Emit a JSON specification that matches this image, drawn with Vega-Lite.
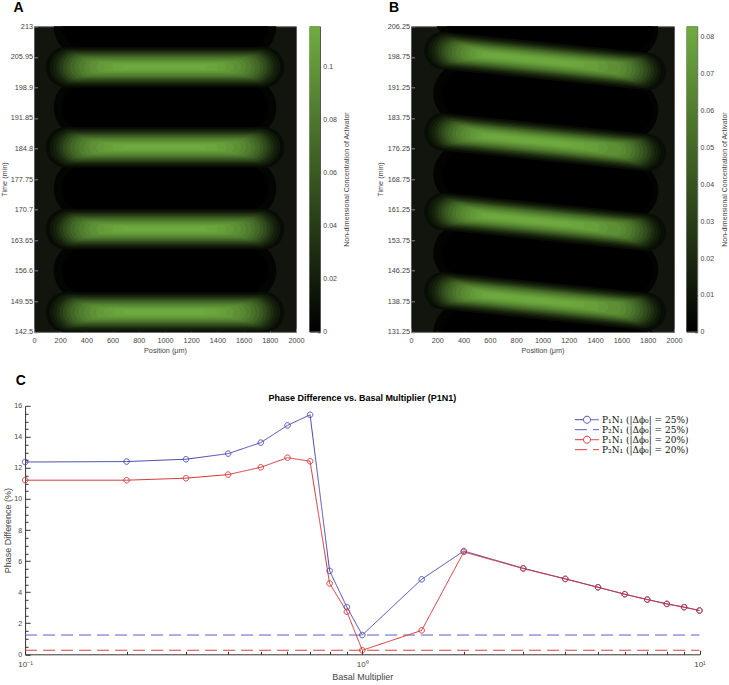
{
  "$schema": "https://vega.github.io/schema/vega-lite/v6.json",
  "autosize": {"type": "pad"},
  "padding": {"left": 0, "top": 0.3, "right": 0, "bottom": 0},
  "background": "white",
  "config": {
    "font": "Liberation Sans",
    "axis": {"labelFlush": false, "labelOverlap": false, "grid": false, "domainColor": "#333", "tickColor": "#333", "labelColor": "#444", "titleColor": "#444", "titleFontWeight": "normal", "labelFont": "Liberation Sans", "titleFont": "Liberation Sans"},
    "view": {"stroke": null}
  },
  "datasets": {
    "heatA": [
      {"x":382,"x2":1618,"t":212.9,"t2":212.9,"v":0.003,"w":14},
      {"x":382,"x2":1618,"t":194.3,"t2":194.3,"v":0.003,"w":14},
      {"x":382,"x2":1618,"t":175.6,"t2":175.6,"v":0.003,"w":14},
      {"x":382,"x2":1618,"t":156.6,"t2":156.6,"v":0.003,"w":14},
      {"x":397,"x2":1603,"t":212.9,"t2":212.9,"v":0,"w":11},
      {"x":397,"x2":1603,"t":194.3,"t2":194.3,"v":0,"w":11},
      {"x":397,"x2":1603,"t":175.6,"t2":175.6,"v":0,"w":11},
      {"x":397,"x2":1603,"t":156.6,"t2":156.6,"v":0,"w":11},
      {"x":245,"x2":1755,"t":203.6,"t2":203.6,"v":0.008,"w":9.4},
      {"x":262,"x2":1738,"t":203.6,"t2":203.6,"v":0.015,"w":8.6},
      {"x":277,"x2":1723,"t":203.6,"t2":203.6,"v":0.022,"w":8.0},
      {"x":293,"x2":1707,"t":203.6,"t2":203.6,"v":0.03,"w":7.4},
      {"x":307,"x2":1693,"t":203.6,"t2":203.6,"v":0.04,"w":6.8},
      {"x":323,"x2":1677,"t":203.6,"t2":203.6,"v":0.05,"w":6.2},
      {"x":341,"x2":1659,"t":203.6,"t2":203.6,"v":0.059,"w":5.65},
      {"x":359,"x2":1641,"t":203.6,"t2":203.6,"v":0.068,"w":5.1},
      {"x":384,"x2":1616,"t":203.6,"t2":203.6,"v":0.076,"w":4.6},
      {"x":408,"x2":1592,"t":203.6,"t2":203.6,"v":0.083,"w":4.1},
      {"x":439,"x2":1561,"t":203.6,"t2":203.6,"v":0.09,"w":3.55},
      {"x":470,"x2":1530,"t":203.6,"t2":203.6,"v":0.096,"w":3.0},
      {"x":516,"x2":1484,"t":203.6,"t2":203.6,"v":0.102,"w":2.5},
      {"x":563,"x2":1437,"t":203.6,"t2":203.6,"v":0.106,"w":2.0},
      {"x":625,"x2":1375,"t":203.6,"t2":203.6,"v":0.11,"w":1.5},
      {"x":697,"x2":1303,"t":203.6,"t2":203.6,"v":0.113,"w":1.0},
      {"x":245,"x2":1755,"t":185.1,"t2":185.1,"v":0.008,"w":9.4},
      {"x":262,"x2":1738,"t":185.1,"t2":185.1,"v":0.015,"w":8.6},
      {"x":277,"x2":1723,"t":185.1,"t2":185.1,"v":0.022,"w":8.0},
      {"x":293,"x2":1707,"t":185.1,"t2":185.1,"v":0.03,"w":7.4},
      {"x":307,"x2":1693,"t":185.1,"t2":185.1,"v":0.04,"w":6.8},
      {"x":323,"x2":1677,"t":185.1,"t2":185.1,"v":0.05,"w":6.2},
      {"x":341,"x2":1659,"t":185.1,"t2":185.1,"v":0.059,"w":5.65},
      {"x":359,"x2":1641,"t":185.1,"t2":185.1,"v":0.068,"w":5.1},
      {"x":384,"x2":1616,"t":185.1,"t2":185.1,"v":0.076,"w":4.6},
      {"x":408,"x2":1592,"t":185.1,"t2":185.1,"v":0.083,"w":4.1},
      {"x":439,"x2":1561,"t":185.1,"t2":185.1,"v":0.09,"w":3.55},
      {"x":470,"x2":1530,"t":185.1,"t2":185.1,"v":0.096,"w":3.0},
      {"x":516,"x2":1484,"t":185.1,"t2":185.1,"v":0.102,"w":2.5},
      {"x":563,"x2":1437,"t":185.1,"t2":185.1,"v":0.106,"w":2.0},
      {"x":625,"x2":1375,"t":185.1,"t2":185.1,"v":0.11,"w":1.5},
      {"x":697,"x2":1303,"t":185.1,"t2":185.1,"v":0.113,"w":1.0},
      {"x":245,"x2":1755,"t":166.2,"t2":166.2,"v":0.008,"w":9.4},
      {"x":262,"x2":1738,"t":166.2,"t2":166.2,"v":0.015,"w":8.6},
      {"x":277,"x2":1723,"t":166.2,"t2":166.2,"v":0.022,"w":8.0},
      {"x":293,"x2":1707,"t":166.2,"t2":166.2,"v":0.03,"w":7.4},
      {"x":307,"x2":1693,"t":166.2,"t2":166.2,"v":0.04,"w":6.8},
      {"x":323,"x2":1677,"t":166.2,"t2":166.2,"v":0.05,"w":6.2},
      {"x":341,"x2":1659,"t":166.2,"t2":166.2,"v":0.059,"w":5.65},
      {"x":359,"x2":1641,"t":166.2,"t2":166.2,"v":0.068,"w":5.1},
      {"x":384,"x2":1616,"t":166.2,"t2":166.2,"v":0.076,"w":4.6},
      {"x":408,"x2":1592,"t":166.2,"t2":166.2,"v":0.083,"w":4.1},
      {"x":439,"x2":1561,"t":166.2,"t2":166.2,"v":0.09,"w":3.55},
      {"x":470,"x2":1530,"t":166.2,"t2":166.2,"v":0.096,"w":3.0},
      {"x":516,"x2":1484,"t":166.2,"t2":166.2,"v":0.102,"w":2.5},
      {"x":563,"x2":1437,"t":166.2,"t2":166.2,"v":0.106,"w":2.0},
      {"x":625,"x2":1375,"t":166.2,"t2":166.2,"v":0.11,"w":1.5},
      {"x":697,"x2":1303,"t":166.2,"t2":166.2,"v":0.113,"w":1.0},
      {"x":245,"x2":1755,"t":147.0,"t2":147.0,"v":0.008,"w":9.4},
      {"x":262,"x2":1738,"t":147.0,"t2":147.0,"v":0.015,"w":8.6},
      {"x":277,"x2":1723,"t":147.0,"t2":147.0,"v":0.022,"w":8.0},
      {"x":293,"x2":1707,"t":147.0,"t2":147.0,"v":0.03,"w":7.4},
      {"x":307,"x2":1693,"t":147.0,"t2":147.0,"v":0.04,"w":6.8},
      {"x":323,"x2":1677,"t":147.0,"t2":147.0,"v":0.05,"w":6.2},
      {"x":341,"x2":1659,"t":147.0,"t2":147.0,"v":0.059,"w":5.65},
      {"x":359,"x2":1641,"t":147.0,"t2":147.0,"v":0.068,"w":5.1},
      {"x":384,"x2":1616,"t":147.0,"t2":147.0,"v":0.076,"w":4.6},
      {"x":408,"x2":1592,"t":147.0,"t2":147.0,"v":0.083,"w":4.1},
      {"x":439,"x2":1561,"t":147.0,"t2":147.0,"v":0.09,"w":3.55},
      {"x":470,"x2":1530,"t":147.0,"t2":147.0,"v":0.096,"w":3.0},
      {"x":516,"x2":1484,"t":147.0,"t2":147.0,"v":0.102,"w":2.5},
      {"x":563,"x2":1437,"t":147.0,"t2":147.0,"v":0.106,"w":2.0},
      {"x":625,"x2":1375,"t":147.0,"t2":147.0,"v":0.11,"w":1.5},
      {"x":697,"x2":1303,"t":147.0,"t2":147.0,"v":0.113,"w":1.0}
    ],
    "heatB": [
      {"x":402,"x2":1648,"t":209.67,"t2":205.56,"v":0.002,"w":15},
      {"x":402,"x2":1648,"t":189.77,"t2":185.66,"v":0.002,"w":15},
      {"x":402,"x2":1648,"t":170.02,"t2":165.91,"v":0.002,"w":15},
      {"x":402,"x2":1648,"t":150.57,"t2":146.46,"v":0.002,"w":15},
      {"x":402,"x2":1648,"t":130.97,"t2":126.86,"v":0.002,"w":15},
      {"x":426,"x2":1654,"t":209.59,"t2":205.54,"v":0,"w":12},
      {"x":426,"x2":1654,"t":189.69,"t2":185.64,"v":0,"w":12},
      {"x":426,"x2":1654,"t":169.94,"t2":165.89,"v":0,"w":12},
      {"x":426,"x2":1654,"t":150.49,"t2":146.44,"v":0,"w":12},
      {"x":426,"x2":1654,"t":130.89,"t2":126.84,"v":0,"w":12},
      {"x":243,"x2":1797,"t":200.30,"t2":195.17,"v":0.006,"w":9.2},
      {"x":260,"x2":1770,"t":200.24,"t2":195.26,"v":0.011,"w":8.4},
      {"x":276,"x2":1754,"t":200.19,"t2":195.31,"v":0.016,"w":7.8},
      {"x":292,"x2":1738,"t":200.14,"t2":195.37,"v":0.022,"w":7.2},
      {"x":307,"x2":1723,"t":200.09,"t2":195.41,"v":0.029,"w":6.6},
      {"x":323,"x2":1707,"t":200.03,"t2":195.47,"v":0.036,"w":6.0},
      {"x":340,"x2":1685,"t":199.98,"t2":195.54,"v":0.043,"w":5.5},
      {"x":358,"x2":1662,"t":199.92,"t2":195.62,"v":0.049,"w":5.0},
      {"x":380,"x2":1640,"t":199.85,"t2":195.69,"v":0.055,"w":4.5},
      {"x":402,"x2":1618,"t":199.77,"t2":195.76,"v":0.06,"w":4.0},
      {"x":429,"x2":1586,"t":199.68,"t2":195.87,"v":0.065,"w":3.5},
      {"x":457,"x2":1553,"t":199.59,"t2":195.98,"v":0.069,"w":3.0},
      {"x":484,"x2":1461,"t":199.50,"t2":196.28,"v":0.073,"w":2.5},
      {"x":520,"x2":1400,"t":199.38,"t2":196.48,"v":0.076,"w":2.0},
      {"x":558,"x2":1297,"t":199.26,"t2":196.82,"v":0.079,"w":1.5},
      {"x":600,"x2":1200,"t":199.12,"t2":197.14,"v":0.081,"w":1.0},
      {"x":243,"x2":1797,"t":180.35,"t2":175.22,"v":0.006,"w":9.2},
      {"x":260,"x2":1770,"t":180.29,"t2":175.31,"v":0.011,"w":8.4},
      {"x":276,"x2":1754,"t":180.24,"t2":175.36,"v":0.016,"w":7.8},
      {"x":292,"x2":1738,"t":180.19,"t2":175.42,"v":0.022,"w":7.2},
      {"x":307,"x2":1723,"t":180.14,"t2":175.46,"v":0.029,"w":6.6},
      {"x":323,"x2":1707,"t":180.08,"t2":175.52,"v":0.036,"w":6.0},
      {"x":340,"x2":1685,"t":180.03,"t2":175.59,"v":0.043,"w":5.5},
      {"x":358,"x2":1662,"t":179.97,"t2":175.67,"v":0.049,"w":5.0},
      {"x":380,"x2":1640,"t":179.90,"t2":175.74,"v":0.055,"w":4.5},
      {"x":402,"x2":1618,"t":179.82,"t2":175.81,"v":0.06,"w":4.0},
      {"x":429,"x2":1586,"t":179.73,"t2":175.92,"v":0.065,"w":3.5},
      {"x":457,"x2":1553,"t":179.64,"t2":176.03,"v":0.069,"w":3.0},
      {"x":484,"x2":1461,"t":179.55,"t2":176.33,"v":0.073,"w":2.5},
      {"x":520,"x2":1400,"t":179.43,"t2":176.53,"v":0.076,"w":2.0},
      {"x":558,"x2":1297,"t":179.31,"t2":176.87,"v":0.079,"w":1.5},
      {"x":600,"x2":1200,"t":179.17,"t2":177.19,"v":0.081,"w":1.0},
      {"x":243,"x2":1797,"t":160.80,"t2":155.67,"v":0.006,"w":9.2},
      {"x":260,"x2":1770,"t":160.74,"t2":155.76,"v":0.011,"w":8.4},
      {"x":276,"x2":1754,"t":160.69,"t2":155.81,"v":0.016,"w":7.8},
      {"x":292,"x2":1738,"t":160.64,"t2":155.87,"v":0.022,"w":7.2},
      {"x":307,"x2":1723,"t":160.59,"t2":155.91,"v":0.029,"w":6.6},
      {"x":323,"x2":1707,"t":160.53,"t2":155.97,"v":0.036,"w":6.0},
      {"x":340,"x2":1685,"t":160.48,"t2":156.04,"v":0.043,"w":5.5},
      {"x":358,"x2":1662,"t":160.42,"t2":156.12,"v":0.049,"w":5.0},
      {"x":380,"x2":1640,"t":160.35,"t2":156.19,"v":0.055,"w":4.5},
      {"x":402,"x2":1618,"t":160.27,"t2":156.26,"v":0.06,"w":4.0},
      {"x":429,"x2":1586,"t":160.18,"t2":156.37,"v":0.065,"w":3.5},
      {"x":457,"x2":1553,"t":160.09,"t2":156.48,"v":0.069,"w":3.0},
      {"x":484,"x2":1461,"t":160.00,"t2":156.78,"v":0.073,"w":2.5},
      {"x":520,"x2":1400,"t":159.88,"t2":156.98,"v":0.076,"w":2.0},
      {"x":558,"x2":1297,"t":159.76,"t2":157.32,"v":0.079,"w":1.5},
      {"x":600,"x2":1200,"t":159.62,"t2":157.64,"v":0.081,"w":1.0},
      {"x":243,"x2":1797,"t":141.35,"t2":136.22,"v":0.006,"w":9.2},
      {"x":260,"x2":1770,"t":141.29,"t2":136.31,"v":0.011,"w":8.4},
      {"x":276,"x2":1754,"t":141.24,"t2":136.36,"v":0.016,"w":7.8},
      {"x":292,"x2":1738,"t":141.19,"t2":136.42,"v":0.022,"w":7.2},
      {"x":307,"x2":1723,"t":141.14,"t2":136.46,"v":0.029,"w":6.6},
      {"x":323,"x2":1707,"t":141.08,"t2":136.52,"v":0.036,"w":6.0},
      {"x":340,"x2":1685,"t":141.03,"t2":136.59,"v":0.043,"w":5.5},
      {"x":358,"x2":1662,"t":140.97,"t2":136.67,"v":0.049,"w":5.0},
      {"x":380,"x2":1640,"t":140.90,"t2":136.74,"v":0.055,"w":4.5},
      {"x":402,"x2":1618,"t":140.82,"t2":136.81,"v":0.06,"w":4.0},
      {"x":429,"x2":1586,"t":140.73,"t2":136.92,"v":0.065,"w":3.5},
      {"x":457,"x2":1553,"t":140.64,"t2":137.03,"v":0.069,"w":3.0},
      {"x":484,"x2":1461,"t":140.55,"t2":137.33,"v":0.073,"w":2.5},
      {"x":520,"x2":1400,"t":140.43,"t2":137.53,"v":0.076,"w":2.0},
      {"x":558,"x2":1297,"t":140.31,"t2":137.87,"v":0.079,"w":1.5},
      {"x":600,"x2":1200,"t":140.17,"t2":138.19,"v":0.081,"w":1.0}
    ],
    "cbA": [{"lo": 0, "hi": 0.1153}],
    "cbB": [{"lo": 0, "hi": 0.0829}],
    "p2n1": [
      {"series": "P₂N₁ (|Δϕ₀| = 25%)", "x0": 0.1, "x1": 10, "val": 1.24},
      {"series": "P₂N₁ (|Δϕ₀| = 20%)", "x0": 0.1, "x1": 10, "val": 0.26}
    ],
    "phase": [
      {"series": "P₁N₁ (|Δϕ₀| = 25%)", "m": 0.1, "pd": 12.38},
      {"series": "P₁N₁ (|Δϕ₀| = 25%)", "m": 0.2, "pd": 12.41},
      {"series": "P₁N₁ (|Δϕ₀| = 25%)", "m": 0.3, "pd": 12.56},
      {"series": "P₁N₁ (|Δϕ₀| = 25%)", "m": 0.4, "pd": 12.92},
      {"series": "P₁N₁ (|Δϕ₀| = 25%)", "m": 0.5, "pd": 13.63},
      {"series": "P₁N₁ (|Δϕ₀| = 25%)", "m": 0.6, "pd": 14.74},
      {"series": "P₁N₁ (|Δϕ₀| = 25%)", "m": 0.7, "pd": 15.42},
      {"series": "P₁N₁ (|Δϕ₀| = 25%)", "m": 0.8, "pd": 5.37},
      {"series": "P₁N₁ (|Δϕ₀| = 25%)", "m": 0.9, "pd": 3.04},
      {"series": "P₁N₁ (|Δϕ₀| = 25%)", "m": 1, "pd": 1.24},
      {"series": "P₁N₁ (|Δϕ₀| = 25%)", "m": 1.5, "pd": 4.83},
      {"series": "P₁N₁ (|Δϕ₀| = 25%)", "m": 2, "pd": 6.65},
      {"series": "P₁N₁ (|Δϕ₀| = 25%)", "m": 3, "pd": 5.54},
      {"series": "P₁N₁ (|Δϕ₀| = 25%)", "m": 4, "pd": 4.86},
      {"series": "P₁N₁ (|Δϕ₀| = 25%)", "m": 5, "pd": 4.32},
      {"series": "P₁N₁ (|Δϕ₀| = 25%)", "m": 6, "pd": 3.87},
      {"series": "P₁N₁ (|Δϕ₀| = 25%)", "m": 7, "pd": 3.53},
      {"series": "P₁N₁ (|Δϕ₀| = 25%)", "m": 8, "pd": 3.25},
      {"series": "P₁N₁ (|Δϕ₀| = 25%)", "m": 9, "pd": 3.04},
      {"series": "P₁N₁ (|Δϕ₀| = 25%)", "m": 10, "pd": 2.82},
      {"series": "P₁N₁ (|Δϕ₀| = 20%)", "m": 0.1, "pd": 11.21},
      {"series": "P₁N₁ (|Δϕ₀| = 20%)", "m": 0.2, "pd": 11.21},
      {"series": "P₁N₁ (|Δϕ₀| = 20%)", "m": 0.3, "pd": 11.34},
      {"series": "P₁N₁ (|Δϕ₀| = 20%)", "m": 0.4, "pd": 11.57},
      {"series": "P₁N₁ (|Δϕ₀| = 20%)", "m": 0.5, "pd": 12.04},
      {"series": "P₁N₁ (|Δϕ₀| = 20%)", "m": 0.6, "pd": 12.66},
      {"series": "P₁N₁ (|Δϕ₀| = 20%)", "m": 0.7, "pd": 12.43},
      {"series": "P₁N₁ (|Δϕ₀| = 20%)", "m": 0.8, "pd": 4.56},
      {"series": "P₁N₁ (|Δϕ₀| = 20%)", "m": 0.9, "pd": 2.74},
      {"series": "P₁N₁ (|Δϕ₀| = 20%)", "m": 1, "pd": 0.26},
      {"series": "P₁N₁ (|Δϕ₀| = 20%)", "m": 1.5, "pd": 1.54},
      {"series": "P₁N₁ (|Δϕ₀| = 20%)", "m": 2, "pd": 6.59},
      {"series": "P₁N₁ (|Δϕ₀| = 20%)", "m": 3, "pd": 5.52},
      {"series": "P₁N₁ (|Δϕ₀| = 20%)", "m": 4, "pd": 4.85},
      {"series": "P₁N₁ (|Δϕ₀| = 20%)", "m": 5, "pd": 4.31},
      {"series": "P₁N₁ (|Δϕ₀| = 20%)", "m": 6, "pd": 3.87},
      {"series": "P₁N₁ (|Δϕ₀| = 20%)", "m": 7, "pd": 3.52},
      {"series": "P₁N₁ (|Δϕ₀| = 20%)", "m": 8, "pd": 3.24},
      {"series": "P₁N₁ (|Δϕ₀| = 20%)", "m": 9, "pd": 3.03},
      {"series": "P₁N₁ (|Δϕ₀| = 20%)", "m": 10, "pd": 2.82}
    ]
  },
  "resolve": {"scale": {"color": "independent", "strokeDash": "independent", "strokeWidth": "independent"}},
  "columns": 1,
  "spacing": 18.5,
  "concat": [
    {
      "resolve": {"scale": {"color": "independent", "strokeWidth": "independent"}},
      "hconcat": [
        {
          "hconcat": [
            {
              "width": 262, "height": 305.5,
              "title": {"text": "A", "anchor": "start", "frame": "group", "dx": -20.5, "offset": -3.7, "baseline": "alphabetic", "fontSize": 14, "fontWeight": "bold", "color": "#000"},
              "view": {"fill": "#11150e", "stroke": "#5c5c5c"},
              "data": {"name": "heatA"},
              "mark": {"type": "rule", "strokeCap": "round", "clip": true},
              "encoding": {
                "x": {"field": "x", "type": "quantitative", "scale": {"domain": [0, 2000], "nice": false, "zero": false},
                  "axis": {"values": [0,200,400,600,800,1000,1200,1400,1600,1800,2000], "format": "d", "title": "Position (μm)", "labelFontSize": 7.3, "titleFontSize": 7.3, "tickSize": -3.5, "tickColor": "#8a8a8a", "labelPadding": 8, "titlePadding": 3, "domain": false}},
                "x2": {"field": "x2"},
                "y": {"field": "t", "type": "quantitative", "scale": {"domain": [142.5, 213], "nice": false, "zero": false},
                  "axis": {"values": [142.5,149.55,156.6,163.65,170.7,177.75,184.8,191.85,198.9,205.95,213], "format": ".2~f", "title": "Time (min)", "labelFontSize": 7.3, "titleFontSize": 7.3, "tickSize": -3.5, "tickColor": "#8a8a8a", "labelPadding": 5, "titlePadding": 1.5, "domain": false}},
                "y2": {"field": "t2"},
                "color": {"field": "v", "type": "quantitative", "scale": {"domain": [0, 0.1153], "range": ["#000000", "#70ad40"], "interpolate": "rgb"}, "legend": null},
                "strokeWidth": {"field": "w", "type": "quantitative", "scale": {"domain": [0, 10], "range": [0, 43.33]}, "legend": null}
              }
            },
            {
              "width": 10.5, "height": 305.5,
              "view": {"stroke": "#555"},
              "data": {"name": "cbA"},
              "mark": {"type": "rect", "color": {"gradient": "linear", "x1": 0, "y1": 1, "x2": 0, "y2": 0, "stops": [{"offset": 0, "color": "#000000"}, {"offset": 1, "color": "#70ad40"}]}},
              "encoding": {
                "y": {"field": "lo", "type": "quantitative", "scale": {"domain": [0, 0.1153], "nice": false},
                  "axis": {"orient": "right", "values": [0,0.02,0.04,0.06,0.08,0.1], "format": ".2~f", "title": "Non-dimensional Concentration of Activator", "labelFontSize": 7, "titleFontSize": 7, "tickSize": -2.5, "tickColor": "#444", "labelPadding": 5.3, "titlePadding": 6, "titleAngle": 270, "titleBaseline": "top", "domain": false}},
                "y2": {"field": "hi"}
              }
            }
          ],
          "spacing": 13.5, "bounds": "flush"
        },
        {
          "hconcat": [
            {
              "width": 263, "height": 305.5,
              "title": {"text": "B", "anchor": "start", "frame": "group", "dx": -22.1, "offset": -3.7, "baseline": "alphabetic", "fontSize": 14, "fontWeight": "bold", "color": "#000"},
              "view": {"fill": "#11150e", "stroke": "#5c5c5c"},
              "data": {"name": "heatB"},
              "mark": {"type": "rule", "strokeCap": "round", "clip": true},
              "encoding": {
                "x": {"field": "x", "type": "quantitative", "scale": {"domain": [0, 2000], "nice": false, "zero": false},
                  "axis": {"values": [0,200,400,600,800,1000,1200,1400,1600,1800,2000], "format": "d", "title": "Position (μm)", "labelFontSize": 7.3, "titleFontSize": 7.3, "tickSize": -3.5, "tickColor": "#8a8a8a", "labelPadding": 8, "titlePadding": 3, "domain": false}},
                "x2": {"field": "x2"},
                "y": {"field": "t", "type": "quantitative", "scale": {"domain": [131.25, 206.25], "nice": false, "zero": false},
                  "axis": {"values": [131.25,138.75,146.25,153.75,161.25,168.75,176.25,183.75,191.25,198.75,206.25], "format": ".2~f", "title": "Time (min)", "labelFontSize": 7.3, "titleFontSize": 7.3, "tickSize": -3.5, "tickColor": "#8a8a8a", "labelPadding": 5, "titlePadding": 3, "domain": false}},
                "y2": {"field": "t2"},
                "color": {"field": "v", "type": "quantitative", "scale": {"domain": [0, 0.0829], "range": ["#000000", "#70ad40"], "interpolate": "rgb"}, "legend": null},
                "strokeWidth": {"field": "w", "type": "quantitative", "scale": {"domain": [0, 10], "range": [0, 40.73]}, "legend": null}
              }
            },
            {
              "width": 10.7, "height": 305.5,
              "view": {"stroke": "#555"},
              "data": {"name": "cbB"},
              "mark": {"type": "rect", "color": {"gradient": "linear", "x1": 0, "y1": 1, "x2": 0, "y2": 0, "stops": [{"offset": 0, "color": "#000000"}, {"offset": 1, "color": "#70ad40"}]}},
              "encoding": {
                "y": {"field": "lo", "type": "quantitative", "scale": {"domain": [0, 0.0829], "nice": false},
                  "axis": {"orient": "right", "values": [0,0.01,0.02,0.03,0.04,0.05,0.06,0.07,0.08], "format": ".2~f", "title": "Non-dimensional Concentration of Activator", "labelFontSize": 7, "titleFontSize": 7, "tickSize": -2.5, "tickColor": "#444", "labelPadding": 5.3, "titlePadding": 7, "titleAngle": 270, "titleBaseline": "top", "domain": false}},
                "y2": {"field": "hi"}
              }
            }
          ],
          "spacing": 12.5, "bounds": "flush"
        }
      ],
      "spacing": 25
    },
    {
      "vconcat": [
        {
          "width": 665.5, "height": 248.5,
          "title": {"text": "Phase Difference vs. Basal Multiplier (P1N1)", "fontSize": 9, "fontWeight": "bold", "color": "#000", "offset": -8.5, "dx": -4.35, "baseline": "alphabetic"},
          "view": {"stroke": null},
          "resolve": {"scale": {"x": "independent", "y": "independent"}},
          "layer": [
            {
              "data": {"name": "p2n1"},
              "mark": {"type": "rule", "strokeWidth": 1},
              "encoding": {
                "x": {"field": "x0", "type": "quantitative", "scale": {"type": "log", "domain": [0.1, 10], "nice": false, "range": [-8.9, 665.5]},
                  "axis": {"orient": "bottom", "values": [0.2,0.3,0.4,0.5,0.6,0.7,0.8,0.9,2,3,4,5,6,7,8,9], "labels": false, "domain": false, "tickSize": -3, "title": null}},
                "x2": {"field": "x1"},
                "y": {"field": "val", "type": "quantitative", "scale": {"domain": [0, 16], "nice": false},
                  "axis": {"orient": "left", "offset": 8.9, "values": [0.5,1,1.5,2.5,3,3.5,4.5,5,5.5,6.5,7,7.5,8.5,9,9.5,10.5,11,11.5,12.5,13,13.5,14.5,15,15.5], "labels": false, "domain": false, "tickSize": -3, "title": null}},
                "color": {"field": "series", "type": "nominal",
                  "scale": {"domain": ["P₁N₁ (|Δϕ₀| = 25%)", "P₂N₁ (|Δϕ₀| = 25%)", "P₁N₁ (|Δϕ₀| = 20%)", "P₂N₁ (|Δϕ₀| = 20%)"], "range": ["#4545b0", "#5a5acc", "#d42f2f", "#d94040"]},
                  "legend": {"title": null, "orient": "none", "legendX": 556.5, "legendY": 9.4, "padding": 0, "symbolSize": 64, "symbolStrokeWidth": 1,
                    "symbolType": "M-5,0H-2.875M-1.125,0H1M-1.125,0A0.875,0.875,0,1,1,-2.875,0A0.875,0.875,0,1,1,-1.125,0",
                    "labelFont": "DejaVu Serif", "labelFontSize": 9, "labelColor": "#111", "labelOffset": 2.5, "rowPadding": -2, "labelLimit": 0,
                    "encoding": {"symbols": {"shape": {"condition": {"test": "indexof(datum.value, 'P₂') >= 0", "value": "M-5,0H1"}, "value": "M-5,0H-2.875M-1.125,0H1M-1.125,0A0.875,0.875,0,1,1,-2.875,0A0.875,0.875,0,1,1,-1.125,0"}, "fill": {"value": "transparent"}}}}},
                "strokeDash": {"field": "series", "type": "nominal",
                  "scale": {"domain": ["P₁N₁ (|Δϕ₀| = 25%)", "P₂N₁ (|Δϕ₀| = 25%)", "P₁N₁ (|Δϕ₀| = 20%)", "P₂N₁ (|Δϕ₀| = 20%)"], "range": [[1, 0], [12, 6], [1, 0], [12, 6]]},
                  "legend": {"title": null, "orient": "none", "legendX": 556.5, "legendY": 9.4, "padding": 0, "symbolSize": 64, "symbolStrokeWidth": 1,
                    "symbolType": "M-5,0H-2.875M-1.125,0H1M-1.125,0A0.875,0.875,0,1,1,-2.875,0A0.875,0.875,0,1,1,-1.125,0",
                    "labelFont": "DejaVu Serif", "labelFontSize": 9, "labelColor": "#111", "labelOffset": 2.5, "rowPadding": -2, "labelLimit": 0,
                    "encoding": {"symbols": {"shape": {"condition": {"test": "indexof(datum.value, 'P₂') >= 0", "value": "M-5,0H1"}, "value": "M-5,0H-2.875M-1.125,0H1M-1.125,0A0.875,0.875,0,1,1,-2.875,0A0.875,0.875,0,1,1,-1.125,0"}, "fill": {"value": "transparent"}}}}}
              }
            },
            {
              "data": {"name": "phase"},
              "mark": {"type": "line", "strokeWidth": 1, "point": {"filled": false, "size": 30, "strokeWidth": 1}},
              "encoding": {
                "x": {"field": "m", "type": "quantitative", "scale": {"type": "log", "domain": [0.1, 10], "nice": false, "range": [-8.9, 665.5]},
                  "axis": {"orient": "bottom", "values": [0.1, 1, 10], "labelExpr": "datum.value < 0.5 ? '10⁻¹' : datum.value < 5 ? '10⁰' : '10¹'", "labelFontSize": 8, "tickSize": -4, "labelPadding": 10, "title": "Basal Multiplier", "titleFontSize": 9, "titlePadding": 4}},
                "y": {"field": "pd", "type": "quantitative", "scale": {"domain": [0, 16], "nice": false},
                  "axis": {"orient": "left", "offset": 8.9, "values": [0,2,4,6,8,10,12,14,16], "format": "d", "labelFontSize": 7, "tickSize": -5, "labelPadding": 8.5, "title": "Phase Difference (%)", "titleFontSize": 9, "titlePadding": 1.8}},
                "color": {"field": "series", "type": "nominal",
                  "scale": {"domain": ["P₁N₁ (|Δϕ₀| = 25%)", "P₂N₁ (|Δϕ₀| = 25%)", "P₁N₁ (|Δϕ₀| = 20%)", "P₂N₁ (|Δϕ₀| = 20%)"], "range": ["#4545b0", "#5a5acc", "#d42f2f", "#d94040"]},
                  "legend": {"title": null, "orient": "none", "legendX": 556.5, "legendY": 9.4, "padding": 0, "symbolSize": 64, "symbolStrokeWidth": 1,
                    "symbolType": "M-5,0H-2.875M-1.125,0H1M-1.125,0A0.875,0.875,0,1,1,-2.875,0A0.875,0.875,0,1,1,-1.125,0",
                    "labelFont": "DejaVu Serif", "labelFontSize": 9, "labelColor": "#111", "labelOffset": 2.5, "rowPadding": -2, "labelLimit": 0,
                    "encoding": {"symbols": {"shape": {"condition": {"test": "indexof(datum.value, 'P₂') >= 0", "value": "M-5,0H1"}, "value": "M-5,0H-2.875M-1.125,0H1M-1.125,0A0.875,0.875,0,1,1,-2.875,0A0.875,0.875,0,1,1,-1.125,0"}, "fill": {"value": "transparent"}}}}},
                "strokeDash": {"field": "series", "type": "nominal",
                  "scale": {"domain": ["P₁N₁ (|Δϕ₀| = 25%)", "P₂N₁ (|Δϕ₀| = 25%)", "P₁N₁ (|Δϕ₀| = 20%)", "P₂N₁ (|Δϕ₀| = 20%)"], "range": [[1, 0], [12, 6], [1, 0], [12, 6]]},
                  "legend": {"title": null, "orient": "none", "legendX": 556.5, "legendY": 9.4, "padding": 0, "symbolSize": 64, "symbolStrokeWidth": 1,
                    "symbolType": "M-5,0H-2.875M-1.125,0H1M-1.125,0A0.875,0.875,0,1,1,-2.875,0A0.875,0.875,0,1,1,-1.125,0",
                    "labelFont": "DejaVu Serif", "labelFontSize": 9, "labelColor": "#111", "labelOffset": 2.5, "rowPadding": -2, "labelLimit": 0,
                    "encoding": {"symbols": {"shape": {"condition": {"test": "indexof(datum.value, 'P₂') >= 0", "value": "M-5,0H1"}, "value": "M-5,0H-2.875M-1.125,0H1M-1.125,0A0.875,0.875,0,1,1,-2.875,0A0.875,0.875,0,1,1,-1.125,0"}, "fill": {"value": "transparent"}}}}}
              }
            }
          ]
        }
      ],
      "title": {"text": "C", "anchor": "start", "frame": "bounds", "dx": 12.7, "offset": -5, "baseline": "alphabetic", "fontSize": 14, "fontWeight": "bold", "color": "#000"}
    }
  ]
}
